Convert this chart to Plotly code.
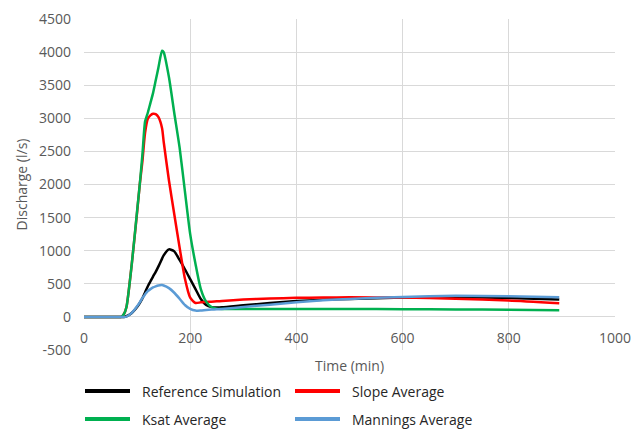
import plotly.graph_objects as go

# Hydrograph data: time (min) and discharge (l/s)
time_min = [0, 20, 40, 60, 70, 75, 80, 90, 100, 105,
            110, 115, 120, 125, 130, 135, 140, 147, 150, 160,
            170, 180, 190, 200, 210, 220, 230, 240, 250, 260,
            300, 350, 400, 450, 500, 600, 700, 800, 895]

reference_sim = [0, 0, 0, 0, 0, 0, 10, 60, 150, 210,
                 280, 370, 460, 535, 610, 680, 760, 880, 930, 1020,
                 990, 860, 720, 570, 420, 270, 180, 148, 142, 145,
                 175, 210, 240, 258, 272, 292, 298, 285, 262]

slope_avg = [0, 0, 0, 0, 0, 40, 150, 800, 1580, 2000,
             2350, 2780, 2990, 3045, 3068, 3062, 3020, 2850, 2650, 2060,
             1550, 1050, 580, 290, 210, 220, 225, 230, 235, 240,
             262, 278, 288, 293, 295, 292, 275, 248, 205]

ksat_avg = [0, 0, 0, 0, 0, 40, 150, 800, 1600, 2000,
            2450, 2950, 3080, 3230, 3380, 3570, 3760, 4020, 4000, 3620,
            3080, 2560, 1900, 1250, 800, 420, 230, 150, 125, 120,
            118, 118, 118, 118, 118, 117, 112, 108, 100]

mannings_avg = [0, 0, 0, 0, 0, 0, 5, 60, 160, 220,
                285, 340, 390, 420, 445, 462, 475, 480, 475, 435,
                365, 275, 180, 120, 95, 98, 105, 110, 115, 120,
                150, 185, 222, 250, 272, 302, 318, 312, 298]

series_names = ["Reference Simulation", "Slope Average", "Ksat Average", "Mannings Average"]
series_values = [reference_sim, slope_avg, ksat_avg, mannings_avg]
series_colors = ["#000000", "#ff0000", "#00b050", "#5b9bd5"]

x_ticks = [0, 200, 400, 600, 800, 1000]
y_ticks = [-500, 0, 500, 1000, 1500, 2000, 2500, 3000, 3500, 4000, 4500]
y_tick_text = [str(v) for v in y_ticks]

W, H = 634, 429
ML, MR, MT, MB = 84, 19, 19, 79
plot_w = W - ML - MR
plot_h = H - MT - MB

FONT = "Open Sans"
GRID = "#d9d9d9"
TXT = "#595959"

fig = go.Figure()
for name, vals, col in zip(series_names, series_values, series_colors):
    fig.add_trace(go.Scatter(
        x=time_min, y=vals, name=name, mode="lines",
        line=dict(color=col, width=2.5, shape="spline", smoothing=0.6),
        showlegend=False,
    ))

# Legend drawn in two columns below the axis title
def px_x(px):
    return (px - ML) / plot_w

def px_y(py):
    return (MT + plot_h - py) / plot_h

legend_pos = [(85, 391), (295, 391), (85, 419), (295, 419)]
shapes = []
annotations = []
for (lx, ly), name, col in zip(legend_pos, series_names, series_colors):
    shapes.append(dict(type="line", xref="paper", yref="paper",
                       x0=px_x(lx), x1=px_x(lx + 45), y0=px_y(ly), y1=px_y(ly),
                       line=dict(color=col, width=4)))
    annotations.append(dict(text=name, xref="paper", yref="paper",
                            x=px_x(lx + 55), y=px_y(ly), xanchor="left", yanchor="middle",
                            showarrow=False, font=dict(family=FONT, size=14, color="#262626")))

annotations.append(dict(text="Time (min)", xref="paper", yref="paper",
                        x=0.5, y=px_y(365), xanchor="center", yanchor="middle",
                        showarrow=False, font=dict(family=FONT, size=14, color=TXT)))

fig.update_layout(
    width=W, height=H,
    margin=dict(l=ML, r=MR, t=MT, b=MB, autoexpand=False),
    paper_bgcolor="white", plot_bgcolor="white",
    font=dict(family=FONT, size=14, color=TXT),
    shapes=shapes, annotations=annotations,
    xaxis=dict(range=[0, 1000], tickvals=x_ticks, showgrid=True, gridcolor=GRID,
               gridwidth=1, zeroline=False, showline=False, ticks="",
               anchor="free", position=0.1, automargin=False,
               ticklabelstandoff=11, tickfont=dict(size=14, color=TXT)),
    yaxis=dict(range=[-500, 4500], tickvals=y_ticks, ticktext=y_tick_text,
               showgrid=True, gridcolor=GRID, automargin=False,
               gridwidth=1, zeroline=False, showline=False, ticks="",
               ticklabelstandoff=12, tickfont=dict(size=14, color=TXT),
               title=dict(text="Discharge (l/s)", font=dict(size=14, color=TXT), standoff=8)),
)

fig.write_html("out.html")
